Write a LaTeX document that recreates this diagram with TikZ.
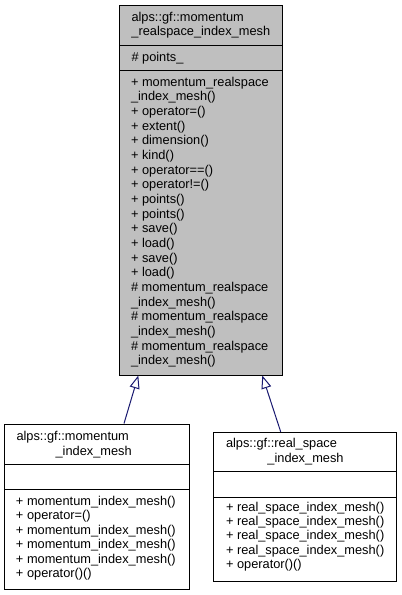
\documentclass[tikz,border=0pt]{standalone}
\usepackage{fontspec}
\setmainfont{Liberation Sans}
\usetikzlibrary{arrows.meta}
\definecolor{edgeblue}{HTML}{191970}
\definecolor{boxgray}{HTML}{BFBFBF}
\tikzset{
  txt/.style={inner sep=0pt, outer sep=0pt, anchor=base west, font=\fontsize{12.8}{14.5}\selectfont},
  ctxt/.style={txt, anchor=base},
  umlbox/.style={draw=black, line width=1pt, inner sep=0pt, outer sep=0pt, anchor=north west},
  inh/.style={draw=edgeblue, line width=1pt, -{Triangle[length=13pt,width=10pt,fill=white]}},
  divider/.style={draw=black, line width=1pt}
}
\begin{document}
\begin{tikzpicture}[x=1pt,y=-1pt]
\useasboundingbox (0,0) rectangle (402,595);
\fill[white] (0,0) rectangle (402,595);

% ---------- base class ----------
\node[umlbox, fill=boxgray, minimum width=163.2pt, minimum height=369.5pt] (base) at (119.5,5.5) {};
\draw[divider] (base.west |- 0,45.7) -- (base.east |- 0,45.7);
\draw[divider] (base.west |- 0,70.7) -- (base.east |- 0,70.7);
\node[txt] (bt1) at (131.5,21) {alps::gf::momentum};
\node[ctxt] (bt2) at (200.8,35.8) {\_realspace\_index\_mesh};
\node[txt] (ba1) at (131.5,61.5) {\# points\_};
\foreach \t [count=\i from 0] in {
  + momentum\_realspace, \_index\_mesh(), + operator=(), + extent(), + dimension(),
  + kind(), + operator==(), + operator!=(), + points(), + points(), + save(),
  + load(), + save(), + load(), \# momentum\_realspace, \_index\_mesh(),
  \# momentum\_realspace, \_index\_mesh(), \# momentum\_realspace, \_index\_mesh()}
  \node[txt] (bm\i) at (131,86+\i*14.68) {\t};

% ---------- momentum_index_mesh ----------
\node[umlbox, minimum width=184.5pt, minimum height=165pt] (left) at (4.5,424) {};
\draw[divider] (left.west |- 0,464.3) -- (left.east |- 0,464.3);
\draw[divider] (left.west |- 0,489.5) -- (left.east |- 0,489.5);
\node[txt] (lt1) at (16.5,440.5) {alps::gf::momentum};
\node[ctxt] (lt2) at (93.7,455) {\_index\_mesh};
\foreach \t [count=\i from 0] in {
  + momentum\_index\_mesh(), + operator=(), + momentum\_index\_mesh(),
  + momentum\_index\_mesh(), + momentum\_index\_mesh(), + operator()()}
  \node[txt] (lm\i) at (16,505.5+\i*14.45) {\t};

% ---------- real_space_index_mesh ----------
\node[umlbox, minimum width=182.7pt, minimum height=148.7pt] (right) at (213.3,432.3) {};
\draw[divider] (right.west |- 0,471) -- (right.east |- 0,471);
\draw[divider] (right.west |- 0,497) -- (right.east |- 0,497);
\node[txt] (rt1) at (226,447.7) {alps::gf::real\_space};
\node[ctxt] (rt2) at (305.5,462) {\_index\_mesh};
\foreach \t [count=\i from 0] in {
  + real\_space\_index\_mesh(), + real\_space\_index\_mesh(),
  + real\_space\_index\_mesh(), + real\_space\_index\_mesh(), + operator()()}
  \node[txt] (rm\i) at (226,511+\i*14.4) {\t};

% ---------- inheritance connectors ----------
\coordinate (lfrom) at (124,423.5);
\coordinate (lto) at (138.3,375.5);
\coordinate (rfrom) at (280.7,431.8);
\coordinate (rto) at (262.3,375.5);
\draw[inh] (lfrom) -- (lto);
\draw[inh] (rfrom) -- (rto);
\end{tikzpicture}
\end{document}
